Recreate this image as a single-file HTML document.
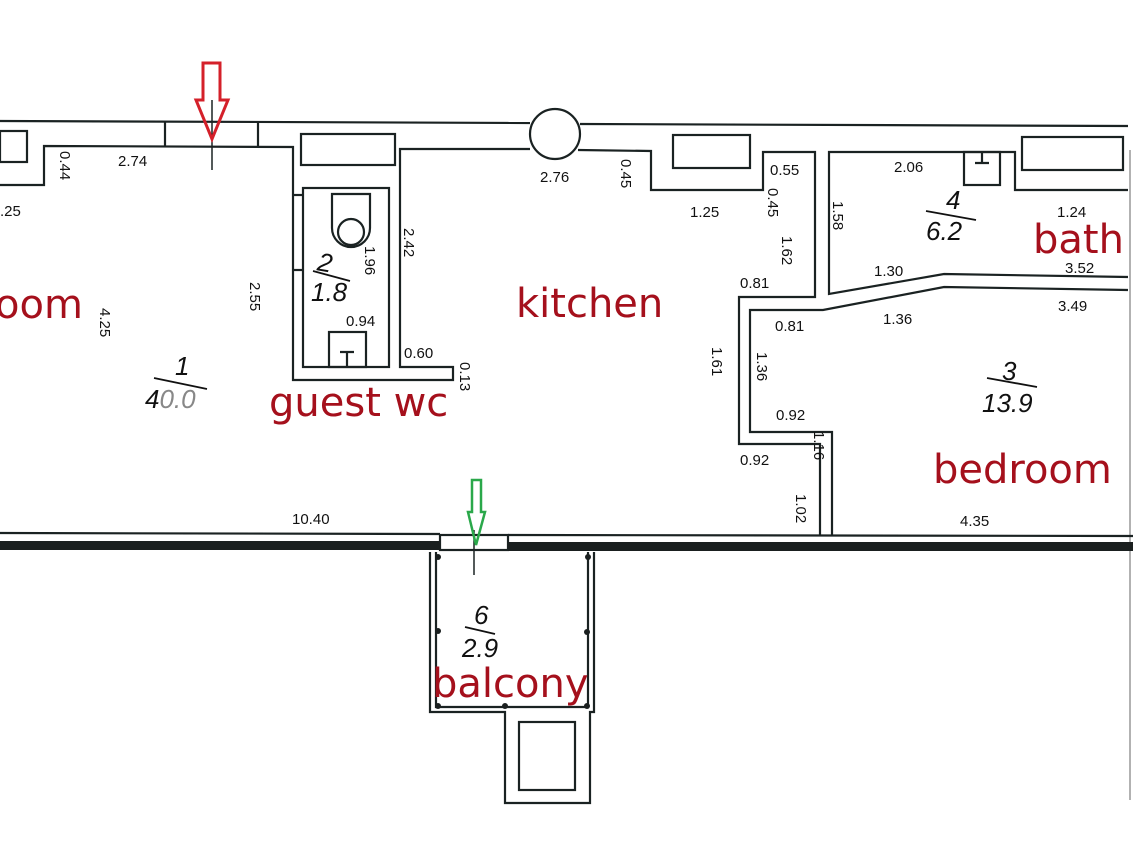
<!DOCTYPE html>
<html><head><meta charset="utf-8"><style>
html,body{margin:0;padding:0;background:#fff;width:1133px;height:851px;overflow:hidden}
svg{display:block}
.d{font-family:"Liberation Sans",sans-serif;font-size:15px;fill:#111}
.r{font-family:"DejaVu Sans","Liberation Sans",sans-serif;font-size:40px;fill:#a5101c}
.a{font-family:"Liberation Sans",sans-serif;font-style:italic;font-size:26px;fill:#111}
</style></head><body>
<svg width="1133" height="851" viewBox="0 0 1133 851" xmlns="http://www.w3.org/2000/svg">
<g fill="none" stroke="#1a2222" stroke-width="2.2">
<line x1="0" y1="121" x2="530" y2="123"/>
<line x1="580" y1="124" x2="1128" y2="126"/>
<circle cx="555" cy="134" r="25" fill="#fff"/>
<rect x="0" y="131" width="27" height="31"/>
<polyline points="0,185 44,185 44,146 293,147 293,380 453,380 453,367 400,367 400,149 530,149"/>
<line x1="165" y1="121" x2="165" y2="146"/>
<line x1="258" y1="122" x2="258" y2="147"/>
<line x1="212" y1="100" x2="212" y2="170" stroke-width="1.5"/>
<rect x="301" y="134" width="94" height="31"/>
<rect x="303" y="188" width="86" height="179"/>
<line x1="293" y1="195" x2="303" y2="195"/>
<line x1="293" y1="270" x2="303" y2="270"/>
<path d="M332,194 h38 v34 a19,19 0 0 1 -38,0 z"/>
<circle cx="351" cy="232" r="13"/>
<rect x="329" y="332" width="37" height="35"/>
<path d="M340,352 h14 M347,352 v15"/>
<polyline points="578,150 651,151 651,190 763,190 763,152 815,152 815,297 739,297 739,444 820,444 820,535"/>
<rect x="673" y="135" width="77" height="33"/>
<polyline points="1128,290 944,287 823,310 750,310 750,432 832,432 832,535"/>
<polyline points="1128,277 944,274 829,294 829,152 1015,152 1015,190 1128,190"/>
<rect x="964" y="152" width="36" height="33"/>
<path d="M975,163 h14 M982,152 v11"/>
<rect x="1022" y="137" width="101" height="33"/>
<line x1="1130" y1="150" x2="1130" y2="800" stroke="#999" stroke-width="1.5"/>
<line x1="0" y1="533" x2="440" y2="534"/>
<line x1="508" y1="535" x2="1133" y2="536"/>
<rect x="440" y="535" width="68" height="15"/>
<line x1="474" y1="530" x2="474" y2="575" stroke-width="1.5"/>
<path d="M430,552 V712 H505 V803 H590 V712 H594 V552"/>
<path d="M436,552 V707 H588 V552"/>
<rect x="519" y="722" width="56" height="68"/>
</g>
<rect x="0" y="541" width="440" height="9" fill="#1a1f1f"/>
<rect x="508" y="542" width="625" height="9" fill="#1a1f1f"/>
<g fill="#1a1f1f"><circle cx="438" cy="557" r="3"/><circle cx="588" cy="557" r="3"/><circle cx="438" cy="631" r="3"/><circle cx="587" cy="632" r="3"/><circle cx="438" cy="706" r="3"/><circle cx="505" cy="706" r="3"/><circle cx="587" cy="706" r="3"/></g>
<path d="M203,63 H220 V100 H228 L212,139 L196,100 H203 Z" fill="none" stroke="#d4202a" stroke-width="3"/>
<path d="M472,480 H481 V512 H485 L476,545 L468,512 H472 Z" fill="none" stroke="#2aa84a" stroke-width="2.5"/>
<g class="d">
<text x="118" y="166">2.74</text>
<text x="0" y="216">.25</text>
<text x="540" y="182">2.76</text>
<text x="690" y="217">1.25</text>
<text x="770" y="175">0.55</text>
<text x="894" y="172">2.06</text>
<text x="1057" y="217">1.24</text>
<text x="1065" y="273">3.52</text>
<text x="1058" y="311">3.49</text>
<text x="874" y="276">1.30</text>
<text x="883" y="324">1.36</text>
<text x="740" y="288">0.81</text>
<text x="775" y="331">0.81</text>
<text x="776" y="420">0.92</text>
<text x="740" y="465">0.92</text>
<text x="346" y="326">0.94</text>
<text x="404" y="358">0.60</text>
<text x="292" y="524">10.40</text>
<text x="960" y="526">4.35</text>
<text transform="translate(60,151) rotate(90)">0.44</text>
<text transform="translate(100,308) rotate(90)">4.25</text>
<text transform="translate(250,282) rotate(90)">2.55</text>
<text transform="translate(365,246) rotate(90)">1.96</text>
<text transform="translate(404,228) rotate(90)">2.42</text>
<text transform="translate(460,362) rotate(90)">0.13</text>
<text transform="translate(621,159) rotate(90)">0.45</text>
<text transform="translate(768,188) rotate(90)">0.45</text>
<text transform="translate(782,236) rotate(90)">1.62</text>
<text transform="translate(833,201) rotate(90)">1.58</text>
<text transform="translate(712,347) rotate(90)">1.61</text>
<text transform="translate(757,352) rotate(90)">1.36</text>
<text transform="translate(814,431) rotate(90)">1.16</text>
<text transform="translate(796,494) rotate(90)">1.02</text>
</g>
<g stroke="#111" stroke-width="1.8">
<line x1="154" y1="378" x2="207" y2="389"/>
<line x1="313" y1="271" x2="350" y2="281"/>
<line x1="926" y1="211" x2="976" y2="220"/>
<line x1="987" y1="378" x2="1037" y2="387"/>
<line x1="465" y1="627" x2="495" y2="634"/>
</g>
<g class="a">
<text x="175" y="375">1</text>
<text x="145" y="408">4<tspan fill="#888">0.0</tspan></text>
<text x="318" y="272" transform="rotate(10 328 262)">2</text>
<text x="311" y="301">1.8</text>
<text x="946" y="209">4</text>
<text x="926" y="240">6.2</text>
<text x="1002" y="380">3</text>
<text x="982" y="412">13.9</text>
<text x="474" y="624">6</text>
<text x="462" y="657">2.9</text>
</g>
<g class="r">
<text x="-5" y="318">oom</text>
<text x="516" y="317">kitchen</text>
<text x="269" y="416">guest wc</text>
<text x="1033" y="253">bath</text>
<text x="933" y="483">bedroom</text>
<text x="432" y="697">balcony</text>
</g>
</svg>
</body></html>
